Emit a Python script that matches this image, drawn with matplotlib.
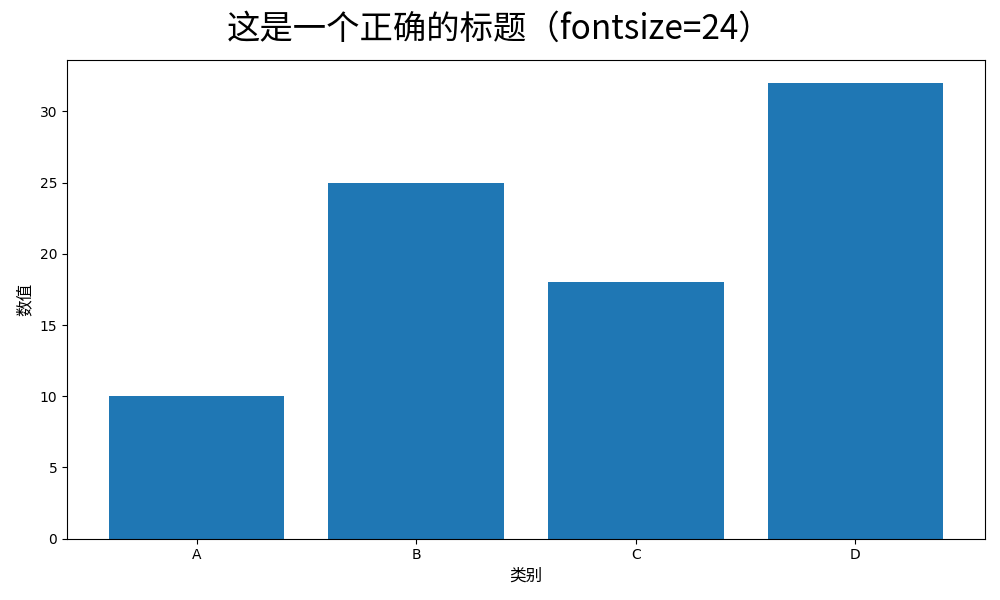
import matplotlib
matplotlib.use("Agg")
import matplotlib.pyplot as plt

cjk = ["Noto Sans CJK SC", "DejaVu Sans"]

categories = ["A", "B", "C", "D"]
values = [10, 25, 18, 32]

fig, ax = plt.subplots(figsize=(10, 6), dpi=100)
ax.bar(categories, values, color="#1f77b4")
ax.set_xlabel("类别", fontsize=12, family=cjk)
ax.set_ylabel("数值", fontsize=12, family=cjk)
fig.suptitle("这是一个正确的标题（fontsize=24）", fontsize=24, family=cjk)

fig.tight_layout()
fig.subplots_adjust(top=0.9, left=0.067)
fig.savefig("out.png", dpi=100)
